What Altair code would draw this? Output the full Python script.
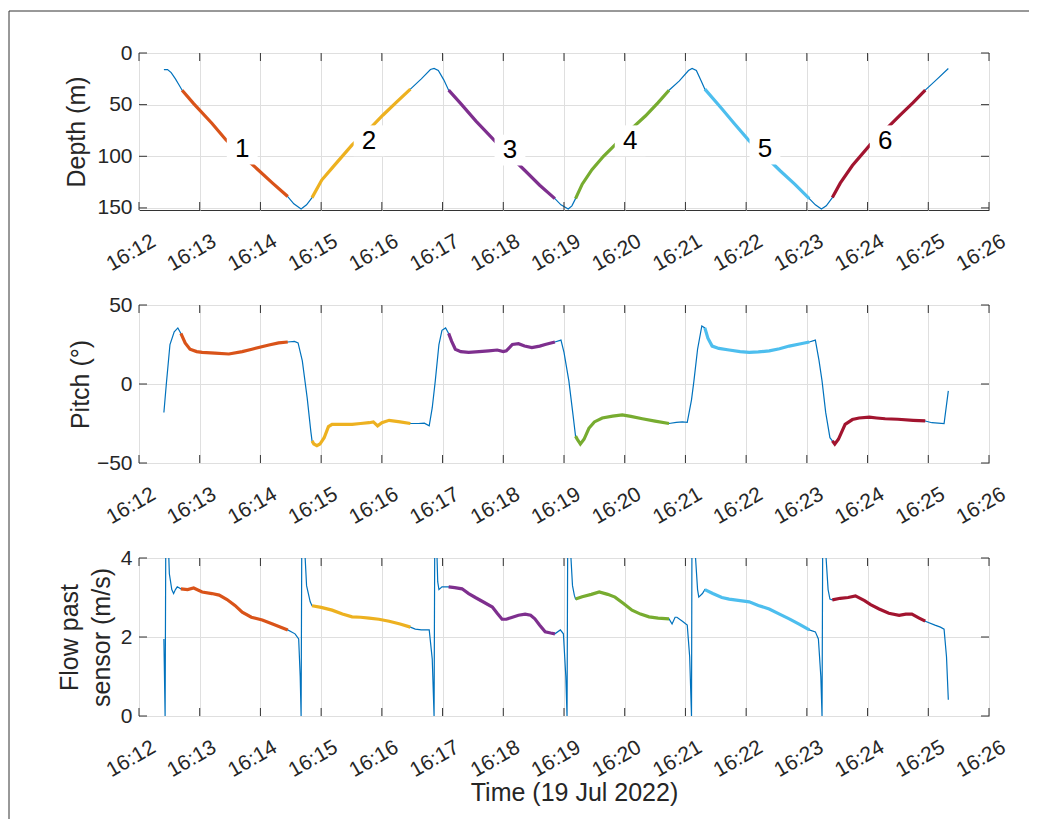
import altair as alt
import pandas as pd

# ---------------- data (time in minutes after 16:12, 19 Jul 2022) ----------------
dive_start = [0.69, 2.85, 5.10, 7.19, 9.32, 11.42]
dive_end = [2.45, 4.47, 6.85, 8.73, 11.04, 12.95]
dive_names = ["1", "2", "3", "4", "5", "6"]
dive_colors = ["#D95319", "#EDB120", "#7E2F8E", "#77AC30", "#4DBEEE", "#A2142F"]
trace_color = "#0072BD"

depth_t = [0.41, 0.47, 0.53, 0.60, 0.66, 0.71, 0.90, 1.20, 1.43, 1.70, 1.96, 2.20, 2.45,
           2.55, 2.67, 2.76, 2.85, 3.01, 3.20, 3.51, 3.79, 4.02, 4.25, 4.47, 4.65, 4.80,
           4.86, 4.93, 5.02, 5.10, 5.30, 5.55, 5.86, 6.10, 6.36, 6.60, 6.85, 6.95, 7.07,
           7.13, 7.19, 7.30, 7.46, 7.65, 7.84, 8.10, 8.34, 8.55, 8.73, 8.90, 9.05, 9.11,
           9.18, 9.26, 9.32, 9.60, 9.80, 10.05, 10.30, 10.56, 10.80, 11.04, 11.14, 11.24,
           11.32, 11.42, 11.55, 11.75, 12.04, 12.30, 12.54, 12.75, 12.95, 13.15, 13.33]
depth_v = [16, 16, 19, 25, 31, 36, 49, 68, 84, 99, 113, 126, 139,
           146, 151, 147, 140, 123, 110, 89, 74, 60, 47, 35, 25, 16,
           15, 17, 26, 36, 49, 66, 85, 99, 114, 128, 141, 147, 151,
           148, 141, 127, 113, 100, 89, 74, 61, 48, 36, 27, 17, 15,
           17, 27, 35, 54, 68, 85, 99, 114, 127, 141, 147, 151,
           148, 140, 126, 109, 89, 74, 60, 48, 36, 25, 15]

pitch_t = [0.41, 0.45, 0.51, 0.58, 0.64, 0.69, 0.76, 0.84, 0.95, 1.04, 1.25, 1.48, 1.70,
           1.86, 2.14, 2.30, 2.45, 2.56, 2.62, 2.69, 2.77, 2.83, 2.85, 2.88, 2.93, 2.98,
           3.05, 3.12, 3.18, 3.35, 3.51, 3.65, 3.79, 3.86, 3.93, 4.00, 4.12, 4.30, 4.47,
           4.60, 4.70, 4.78, 4.83, 4.88, 4.94, 4.99, 5.05, 5.10, 5.15, 5.21, 5.30, 5.43,
           5.60, 5.76, 5.90, 6.00, 6.05, 6.15, 6.25, 6.35, 6.47, 6.60, 6.69, 6.85, 6.95,
           7.00, 7.08, 7.15, 7.19, 7.22, 7.27, 7.33, 7.41, 7.50, 7.63, 7.80, 7.96, 8.10,
           8.29, 8.50, 8.73, 8.85, 8.95, 9.03, 9.10, 9.14, 9.20, 9.27, 9.32, 9.37, 9.44,
           9.55, 9.72, 9.90, 10.05, 10.20, 10.38, 10.55, 10.71, 10.90, 11.04, 11.14, 11.20,
           11.25, 11.31, 11.38, 11.42, 11.46, 11.52, 11.63, 11.75, 11.86, 12.03, 12.15,
           12.29, 12.50, 12.75, 12.95, 13.06, 13.26, 13.33]
pitch_v = [-18, 0, 25, 33, 35.5, 32, 26, 22, 20.5, 20, 19.5, 19, 20.5,
           22, 24.7, 26, 26.6, 27, 26, 14.6, -8.8, -30, -36, -38, -39, -38,
           -34, -27, -25.5, -25.5, -25.5, -25, -24.5, -24, -26.5, -24.5, -23, -24, -25,
           -25, -24.8, -26.5, -15, 2, 25, 34, 35.5, 32, 27, 22, 20.5, 20,
           20.5, 21, 21.5, 20.5, 21, 25, 25.5, 24, 23, 24, 25, 26.6, 27.8,
           20, 2, -20, -33, -35, -38, -35, -28, -24, -21.5, -20.3, -19.6, -20.5,
           -22, -23.5, -25, -24.3, -24, -24.3, -10, 2, 22, 36.7, 35.5, 29, 24,
           22.5, 21.5, 20.5, 20, 20.3, 21, 22.3, 24, 25.5, 26.6, 27.8, 15,
           2, -18, -34, -36, -38, -35, -25.5, -22.5, -21.5, -21, -21.5,
           -22, -22.3, -23, -23.4, -24.5, -25, -4.4]

flow_t = [0.41, 0.43, 0.445, 0.47, 0.50, 0.54, 0.57, 0.60, 0.63, 0.69, 0.80, 0.90, 1.04,
          1.20, 1.32, 1.45, 1.58, 1.70, 1.85, 2.03, 2.20, 2.45, 2.57, 2.63, 2.655, 2.67,
          2.685, 2.72, 2.76, 2.82, 2.85, 3.00, 3.18, 3.35, 3.51, 3.65, 3.79, 3.95, 4.12,
          4.30, 4.47, 4.55, 4.65, 4.78, 4.83, 4.86, 4.875, 4.90, 4.92, 4.94, 4.99, 5.10,
          5.20, 5.32, 5.43, 5.54, 5.68, 5.82, 5.90, 5.98, 6.05, 6.15, 6.25, 6.36, 6.45,
          6.52, 6.60, 6.69, 6.78, 6.85, 6.94, 6.99, 7.03, 7.05, 7.065, 7.10, 7.14, 7.17,
          7.19, 7.30, 7.45, 7.58, 7.72, 7.84, 7.98, 8.12, 8.26, 8.40, 8.55, 8.73, 8.78,
          8.83, 8.86, 8.95, 9.03, 9.07, 9.10, 9.11, 9.15, 9.20, 9.22, 9.28, 9.32, 9.45,
          9.60, 9.72, 9.90, 10.05, 10.20, 10.38, 10.55, 10.71, 10.88, 11.04, 11.14, 11.19,
          11.23, 11.25, 11.265, 11.30, 11.35, 11.38, 11.42, 11.55, 11.68, 11.80, 11.95,
          12.05, 12.19, 12.35, 12.52, 12.63, 12.73, 12.85, 12.95, 13.11, 13.20, 13.26,
          13.30, 13.33]
flow_v = [1.95, 0, 6, 5, 3.6, 3.2, 3.1, 3.2, 3.27, 3.22, 3.2, 3.24, 3.14,
          3.1, 3.06, 2.95, 2.8, 2.63, 2.5, 2.43, 2.33, 2.18, 2.08, 1.95, 1.0, 0,
          6, 4.5, 3.3, 2.89, 2.79, 2.75, 2.68, 2.58, 2.51, 2.5, 2.48, 2.45, 2.4,
          2.33, 2.25, 2.2, 2.18, 2.18, 1.44, 0, 6, 4.5, 3.4, 3.2, 3.27, 3.27,
          3.25, 3.22, 3.1, 3.0, 2.88, 2.76, 2.6, 2.45, 2.45, 2.5, 2.55, 2.58, 2.55,
          2.46, 2.3, 2.13, 2.1, 2.08, 2.18, 2.08, 1.0, 0, 6, 4.4, 3.3, 3.06,
          2.96, 3.02, 3.08, 3.14, 3.08, 3.01, 2.85, 2.68, 2.58, 2.51, 2.48, 2.46, 2.33,
          2.5, 2.5, 2.4, 2.3, 1.5, 0, 6, 4.4, 3.2, 3.01, 3.1, 3.2, 3.1,
          3.0, 2.96, 2.92, 2.89, 2.8, 2.71, 2.58, 2.46, 2.32, 2.18, 2.13, 1.95,
          1.0, 0, 6, 4.4, 3.2, 2.96, 2.94, 2.98, 3.0, 3.04, 2.92,
          2.82, 2.71, 2.6, 2.55, 2.58, 2.58, 2.48, 2.40, 2.3, 2.25, 2.2,
          1.5, 0.41]

label_t = [1.70, 3.79, 6.11, 8.09, 10.31, 12.29]
label_v = [93, 85, 94, 85, 93, 85]

x_ticks = list(range(15))
depth_ticks = [0, 50, 100, 150]
pitch_ticks = [-50, 0, 50]
flow_ticks = [0, 2, 4]

# ---------------- helpers ----------------
FONT = "Liberation Sans"
FRAME = "#333333"
W = 850
TICK = 8


def dive_of(t):
    for name, a, b in zip(dive_names, dive_start, dive_end):
        if a - 1e-9 <= t <= b + 1e-9:
            return name
    return "0"


def frame_df(ts, vs):
    return pd.DataFrame({"t": ts, "v": vs, "dive": [dive_of(t) for t in ts]})


def x_enc(title=None):
    kw = dict(values=x_ticks, labelExpr="'16:' + (12 + datum.value)", labelAngle=330,
              labelAlign="right", labelBaseline="top", labelPadding=20, labelOffset=9,
              labelOverlap=False, labelFlush=False, grid=True)
    if title:
        kw.update(title=title, titleX=435, titleY=84, titleAlign="center",
                  titleBaseline="alphabetic", titleAngle=0)
    else:
        kw.update(title=None)
    return alt.X("t:Q", scale=alt.Scale(domain=[0, 14], nice=False, zero=False),
                 axis=alt.Axis(**kw))


def y_enc(domain, ticks, title, title_x, h, reverse=False):
    return alt.Y("v:Q",
                 scale=alt.Scale(domain=domain, nice=False, zero=False, reverse=reverse),
                 axis=alt.Axis(values=ticks, title=title, titleX=title_x, titleY=h / 2,
                               grid=True))


def panel(df, domain, ticks, title, title_x, h, reverse=False, xtitle=None, extra=None):
    X = x_enc(xtitle)
    Y = y_enc(domain, ticks, title, title_x, h, reverse)
    base = alt.Chart(df).mark_line(color=trace_color, strokeWidth=1.2, clip=True).encode(
        x=X, y=Y)
    dives = alt.Chart(df).transform_filter("datum.dive != '0'").mark_line(
        strokeWidth=3.2, clip=True).encode(
        x=X, y=Y,
        color=alt.Color("dive:N", scale=alt.Scale(domain=dive_names, range=dive_colors),
                        legend=None))
    xt = pd.DataFrame({"t": x_ticks})
    yt = pd.DataFrame({"v": ticks})
    tick_style = dict(color=FRAME, strokeWidth=1)
    xt_bot = alt.Chart(xt).mark_rule(**tick_style).encode(
        x=X, y=alt.value(h), y2=alt.value(h - TICK))
    xt_top = alt.Chart(xt).mark_rule(**tick_style).encode(
        x=X, y=alt.value(0), y2=alt.value(TICK))
    yt_l = alt.Chart(yt).mark_rule(**tick_style).encode(
        y=Y, x=alt.value(0), x2=alt.value(TICK))
    yt_r = alt.Chart(yt).mark_rule(**tick_style).encode(
        y=Y, x=alt.value(W - TICK), x2=alt.value(W))
    layers = [base, dives]
    if extra is not None:
        layers += extra(X, Y)
    layers += [xt_bot, xt_top, yt_l, yt_r]
    return alt.layer(*layers).properties(width=W, height=h)


depth_df = frame_df(depth_t, depth_v)
pitch_df = frame_df(pitch_t, pitch_v)
flow_df = frame_df(flow_t, flow_v)
labels_df = pd.DataFrame({"t": label_t, "v": label_v, "txt": dive_names})
one = pd.DataFrame({"k": [0]})


def depth_extra(X, Y):
    boxes = alt.Chart(labels_df).mark_point(
        shape="square", filled=True, color="white", opacity=1, size=950,
        strokeWidth=0).encode(x=X, y=Y)
    texts = alt.Chart(labels_df).mark_text(
        font=FONT, fontSize=26, color="black", align="center", baseline="middle").encode(
        x=X, y=Y, text="txt:N")
    frame_top = alt.Chart(one).mark_rule(color=FRAME, strokeWidth=1).encode(
        x=alt.value(-130), x2=alt.value(890), y=alt.value(-42))
    frame_left = alt.Chart(one).mark_rule(color=FRAME, strokeWidth=1).encode(
        x=alt.value(-130), y=alt.value(-42), y2=alt.value(766))
    return [boxes, texts, frame_top, frame_left]


top = panel(depth_df, [0, 152], depth_ticks, "Depth (m)", -55, 157, reverse=True,
            extra=depth_extra)
mid = panel(pitch_df, [-50, 50], pitch_ticks, "Pitch (°)", -51, 158)
bot = panel(flow_df, [0, 4], flow_ticks, ["Flow past", "sensor (m/s)"], -62, 158,
            xtitle="Time (19 Jul 2022)")

chart = alt.vconcat(top, mid, bot, spacing=95, bounds="flush").properties(
    padding={"left": 0, "top": 2, "right": 0, "bottom": 0}
).configure_view(
    stroke=FRAME, strokeWidth=1
).configure_axis(
    labelFont=FONT, labelFontSize=21, labelColor="#262626",
    titleFont=FONT, titleFontSize=25, titleFontWeight="normal", titleColor="#262626",
    gridColor="#dfdfdf", gridWidth=1, domain=False, ticks=False, tickSize=0
).configure_axisY(
    labelPadding=7, titleAngle=270, titleAlign="center", titleBaseline="alphabetic",
    titleLineHeight=32
)

chart.save("out.html", embed_options={"renderer": "svg", "actions": False})
